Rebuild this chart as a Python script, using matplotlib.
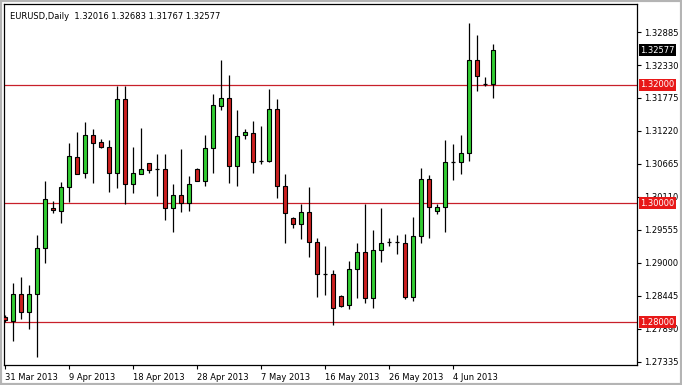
import matplotlib
matplotlib.use("Agg")
import matplotlib.pyplot as plt
from matplotlib.patches import Rectangle
import numpy as np

# EURUSD daily bars, 31 Mar 2013 .. 10 Jun 2013 (broker with Sunday bars)
opens = [1.28088, 1.28026, 1.28475, 1.28177, 1.28475, 1.29245, 1.29923, 1.29878, 1.30271, 1.30786,
         1.30507, 1.31152, 1.31029, 1.30945, 1.30507, 1.31753, 1.30322, 1.30500, 1.30675, 1.30574,
         1.30574, 1.29918, 1.30137, 1.30012, 1.30579, 1.30382, 1.30928, 1.31645, 1.31769, 1.30635,
         1.31157, 1.31180, 1.30719, 1.30719, 1.31584, 1.30298, 1.29755, 1.29649, 1.29851, 1.29346,
         1.28812, 1.28807, 1.28442, 1.28290, 1.28891, 1.29182, 1.28403, 1.29216, 1.29351, 1.29346,
         1.29334, 1.28430, 1.29452, 1.30406, 1.29878, 1.29935, 1.30697, 1.30692, 1.30849, 1.32409,
         1.32005, 1.32016]
highs = [1.28122, 1.28655, 1.28767, 1.28627, 1.29468, 1.30377, 1.30046, 1.30361, 1.31022, 1.31202,
         1.31370, 1.31258, 1.31079, 1.31068, 1.31981, 1.31981, 1.30945, 1.31264, 1.30680, 1.30827,
         1.30827, 1.30327, 1.30916, 1.30462, 1.30601, 1.31152, 1.31842, 1.32414, 1.32162, 1.31572,
         1.31248, 1.31387, 1.31308, 1.31921, 1.31753, 1.30490, 1.29777, 1.29985, 1.30281, 1.29413,
         1.29283, 1.28879, 1.28459, 1.29031, 1.29329, 1.29985, 1.29553, 1.29918, 1.29423, 1.29468,
         1.29480, 1.29763, 1.30591, 1.30473, 1.29985, 1.31062, 1.31000, 1.31152, 1.33042, 1.32835,
         1.32123, 1.32683]
lows = [1.28004, 1.27689, 1.28055, 1.27881, 1.27420, 1.28992, 1.29844, 1.29665, 1.30029, 1.30487,
        1.30423, 1.30349, 1.30933, 1.30197, 1.30265, 1.29990, 1.30180, 1.30490, 1.30517, 1.30125,
        1.29721, 1.29524, 1.29861, 1.29878, 1.30377, 1.30298, 1.30517, 1.31572, 1.30349, 1.30298,
        1.31079, 1.30517, 1.30659, 1.30692, 1.30086, 1.29329, 1.29581, 1.29396, 1.29103, 1.28420,
        1.28459, 1.27954, 1.28262, 1.28218, 1.28403, 1.28329, 1.28235, 1.29019, 1.29288, 1.29149,
        1.28396, 1.28363, 1.29329, 1.29423, 1.29822, 1.29524, 1.30399, 1.30500, 1.30719, 1.31892,
        1.31981, 1.31767]
closes = [1.28037, 1.28475, 1.28167, 1.28475, 1.29245, 1.30069, 1.29884, 1.30271, 1.30798, 1.30495,
          1.31152, 1.31012, 1.30945, 1.30507, 1.31753, 1.30322, 1.30507, 1.30579, 1.30563, 1.30574,
          1.29918, 1.30137, 1.30012, 1.30322, 1.30382, 1.30928, 1.31652, 1.31769, 1.30635, 1.31140,
          1.31197, 1.30702, 1.30719, 1.31584, 1.30298, 1.29834, 1.29654, 1.29851, 1.29346, 1.28807,
          1.28812, 1.28245, 1.28278, 1.28891, 1.29182, 1.28403, 1.29216, 1.29334, 1.29351, 1.29346,
          1.28430, 1.29447, 1.30406, 1.29945, 1.29935, 1.30697, 1.30697, 1.30849, 1.32409, 1.32150,
          1.32010, 1.32577]

date_ticks = [0, 8, 16, 24, 32, 40, 48, 56]
date_labels = ["31 Mar 2013", "9 Apr 2013", "18 Apr 2013", "28 Apr 2013",
               "7 May 2013", "16 May 2013", "26 May 2013", "4 Jun 2013"]
price_ticks = [1.32885, 1.32330, 1.31775, 1.31220, 1.30665, 1.30110,
               1.29555, 1.29000, 1.28445, 1.27890, 1.27335]
levels = [1.32000, 1.30000, 1.28000]
title = "EURUSD,Daily  1.32016 1.32683 1.31767 1.32577"

W, H = 682, 385
fig = plt.figure(figsize=(W / 100, H / 100), dpi=100)
ax = fig.add_axes([4 / W, 1 - 365 / H, (637 - 4) / W, (365 - 4) / H])

plt.rcParams['font.family'] = 'DejaVu Sans'
up_col = '#32cd32'
dn_col = '#cc2020'
line_col = '#c8202a'

o = np.array(opens)
h = np.array(highs)
l = np.array(lows)
c = np.array(closes)
x = np.arange(len(o))

# horizontal levels
for lv in levels:
    ax.axhline(lv, color=line_col, lw=0.9, zorder=1)

# wicks
ax.vlines(x, l, h, color='black', lw=0.9, zorder=2)

# bodies
bw = 0.6
for i in range(len(x)):
    if abs(c[i] - o[i]) < 0.0001:
        ax.hlines(o[i], x[i] - bw / 2, x[i] + bw / 2, color='black', lw=0.9, zorder=3)
        continue
    col = up_col if c[i] > o[i] else dn_col
    ax.bar(x[i], abs(c[i] - o[i]), bottom=min(o[i], c[i]), width=bw,
           color=col, edgecolor='black', linewidth=0.8, zorder=3)

ax.set_xlim(-0.125, 79)
ax.set_ylim(1.27280, 1.33357)

ax.yaxis.tick_right()
ax.set_yticks(price_ticks)
ax.set_yticklabels(["%.5f" % p for p in price_ticks])
ax.set_xticks(date_ticks)
ax.set_xticklabels(date_labels, ha='left')
ax.tick_params(axis='both', direction='out', length=3, width=0.8, labelsize=6, pad=2)
ax.tick_params(axis='x', pad=3)
for s in ax.spines.values():
    s.set_linewidth(0.9)

ax.text(0.009, 0.965, title, transform=ax.transAxes, fontsize=6, va='center', ha='left')

# price labels on the right axis
def price_box(y, fc):
    ax.annotate("%.5f" % y, xy=(1, y), xycoords=('axes fraction', 'data'),
                xytext=(2.5, 0), textcoords='offset points', va='center', ha='left',
                fontsize=6, color='white',
                bbox=dict(boxstyle='square,pad=0.18', fc=fc, ec='none'), zorder=10,
                annotation_clip=False)

price_box(closes[-1], 'black')
for lv in levels:
    price_box(lv, '#e81818')

# window frame
fig.patches.append(Rectangle((0, 0), 1, 1, transform=fig.transFigure, fill=False,
                             ec='#b4b4b4', lw=3))

fig.savefig('out.png', dpi=100)
